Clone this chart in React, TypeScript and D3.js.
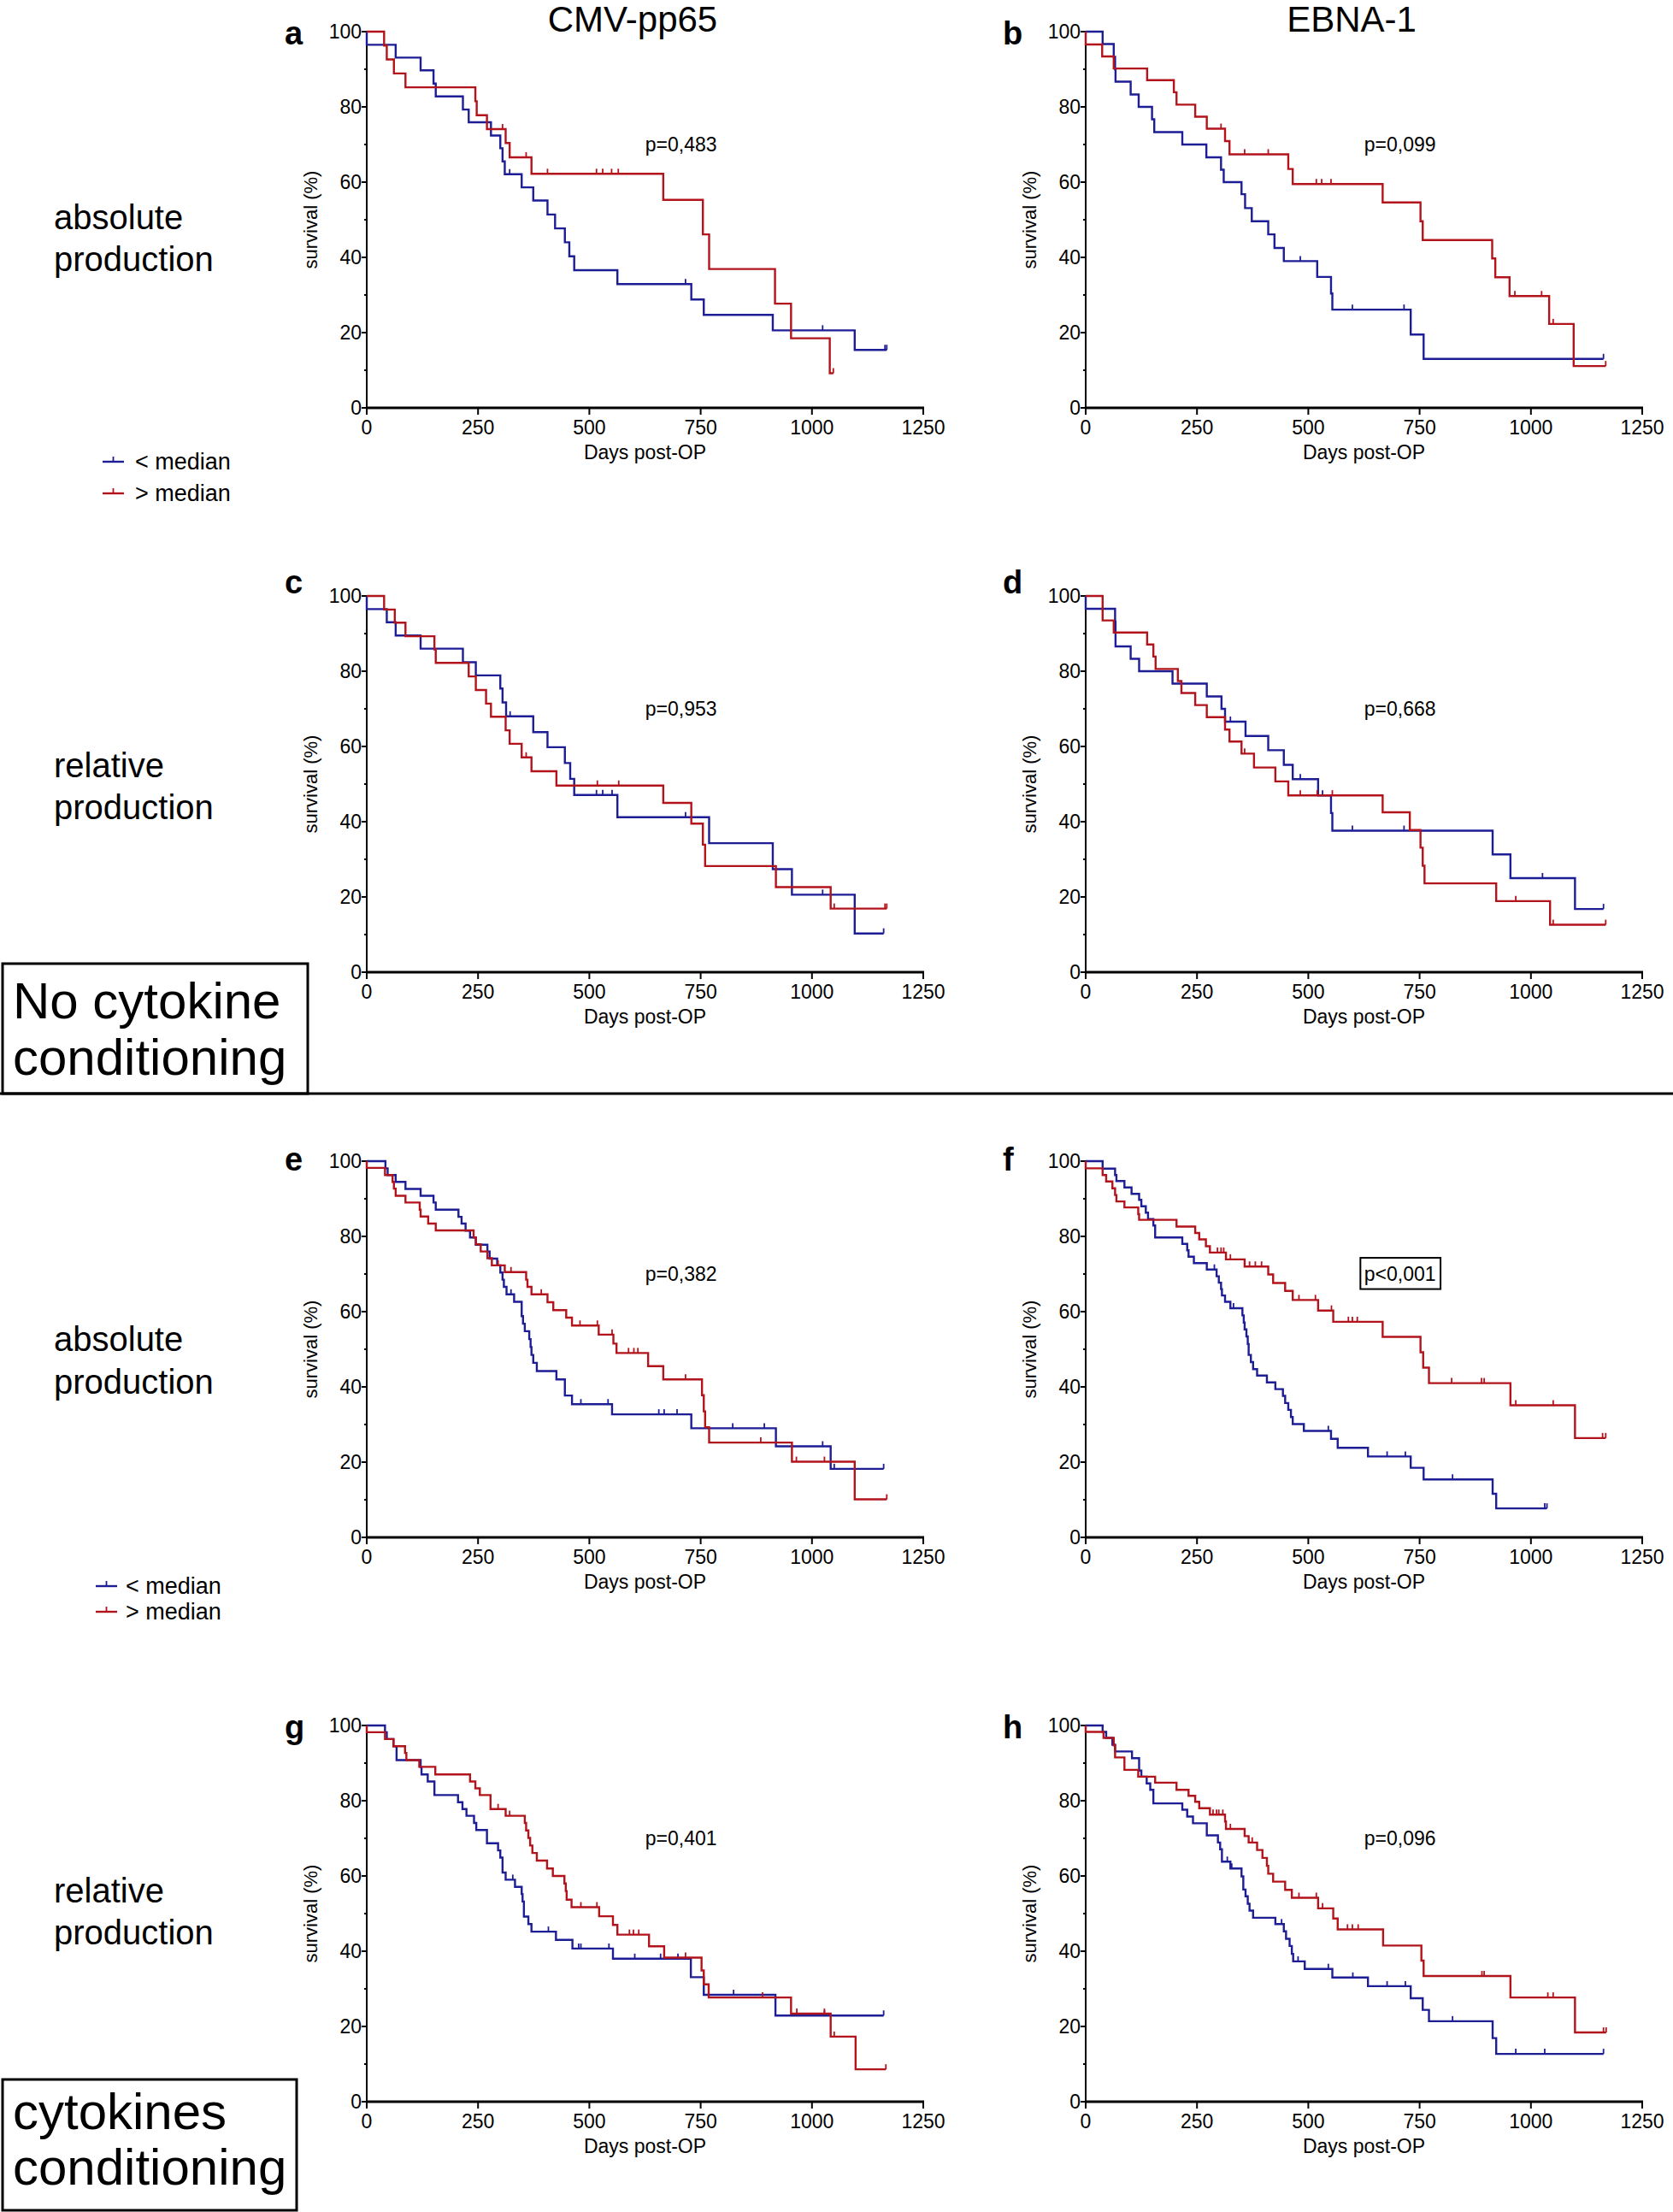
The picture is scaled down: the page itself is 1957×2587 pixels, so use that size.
import React from 'react';
import * as d3 from 'd3';

type Step = [number, number];

// ---------- data (days, survival % after event) ----------
const aBlueSteps: Step[] = [[0,96.5],[65,93.1],[121,89.7],[150,86.2],[155,82.8],[216,79.3],[229,75.9],[279,72.4],[300,69],[305,65.5],[310,62.1],[348,58.6],[374,55.1],[406,51.4],[423,47.7],[445,44],[455,40.3],[466,36.6],[563,32.9],[729,28.8],[757,24.7],[912,20.6],[1096,15.4]];
const aBlueCens = [321, 716, 1024, 1164, 1168];
const aRedSteps: Step[] = [[39,96.3],[45,92.6],[61,88.9],[87,85.2],[244,81.5],[247,77.8],[270,74.1],[312,70.4],[321,66.6],[370,62.2],[666,55.3],[755,46.1],[769,36.9],[917,27.7],[953,18.5],[1040,9.2]];
const aRedCens = [305, 358, 406, 516, 530, 550, 565, 1048];

const bBlueSteps: Step[] = [[38,96.7],[63,93.3],[66,90],[67,86.7],[101,83.3],[119,80],[149,76.7],[154,73.3],[217,70],[271,66.6],[304,63.3],[310,60],[350,56.8],[358,53.1],[373,49.6],[410,46.1],[424,42.5],[445,39],[520,34.8],[551,30.4],[554,26.1],[730,19.5],[759,13]];
const bBlueCens = [482, 599, 715, 1163];
const bRedSteps: Step[] = [[0,96.6],[37,93.4],[63,90.2],[138,87.1],[198,83.9],[204,80.6],[246,77.4],[272,74.2],[313,70.9],[323,67.4],[455,63.5],[465,59.5],[667,54.6],[752,49.6],[757,44.6],[913,39.7],[920,34.7],[952,29.7],[1041,22.3],[1096,11.1]];
const bRedCens = [304, 357, 410, 518, 530, 551, 964, 1024, 1050, 1168];

const cBlueSteps: Step[] = [[0,96.5],[45,93],[65,89.5],[121,86],[216,82.4],[245,78.9],[300,75.4],[305,71.7],[313,68],[374,63.8],[406,59.8],[445,55.6],[457,51.4],[466,47.1],[563,41.2],[769,34.3],[912,27.4],[955,20.6],[1096,10.3]];
const cBlueCens = [322, 516, 530, 551, 716, 1024, 1161];
const cRedSteps: Step[] = [[39,96.4],[63,92.9],[87,89.3],[152,85.8],[155,82.2],[229,78.6],[245,75],[268,71.4],[279,67.9],[312,64.3],[321,60.7],[348,57.1],[370,53.4],[426,49.6],[666,45],[729,39.5],[755,33.9],[760,28.2],[919,22.6],[1042,16.9]];
const cRedCens = [358, 518, 566, 1050, 1164, 1168];

const dBlueSteps: Step[] = [[0,96.6],[66,93.2],[67,86.6],[101,83.3],[120,80],[195,76.7],[272,73.3],[305,70],[313,66.6],[359,62.8],[410,59],[445,55.1],[465,51.3],[522,47],[551,42.3],[554,37.6],[914,31.3],[954,25],[1099,16.8]];
const dBlueCens = [325, 482, 532, 599, 715, 1026, 1163];
const dRedSteps: Step[] = [[38,93.5],[63,90.3],[138,87.1],[152,83.9],[157,80.6],[207,77.4],[215,74.2],[246,71],[272,67.8],[313,64.5],[323,61.3],[350,58.1],[378,54.4],[426,50.7],[455,47],[667,42.5],[728,37.8],[752,33.1],[757,28.3],[761,23.6],[922,18.9],[1043,12.6]];
const dRedCens = [357, 482, 520, 554, 966, 1050, 1168];

const eBlueSteps: Step[] = [[42,98.1],[47,96.3],[65,94.5],[87,92.6],[121,90.8],[150,89],[155,87.1],[206,85.2],[213,83.4],[222,81.5],[232,79.7],[245,77.8],[271,76],[276,74.1],[293,72.3],[300,70.4],[305,68.5],[308,66.6],[314,64.6],[331,62.6],[348,58.8],[351,56.8],[355,54.8],[365,52.7],[368,50.6],[370,48.5],[374,46.4],[382,44.2],[426,42],[445,37.7],[461,35.4],[551,32.7],[729,29],[919,24.2],[1042,18.2]];
const eBlueCens = [324, 481, 542, 656, 668, 697, 822, 893, 1024, 1050, 1161];
const eRedSteps: Step[] = [[0,98.2],[41,96.3],[58,94.5],[61,92.7],[65,90.8],[87,89],[119,87.1],[121,85.3],[138,83.4],[155,81.6],[240,79.7],[245,77.9],[256,76],[271,74.2],[281,72.3],[310,70.5],[358,68.5],[361,66.6],[370,64.6],[406,62.5],[419,60.4],[448,58.4],[461,56.3],[521,53.9],[554,51.5],[561,49],[632,45.5],[666,42],[753,37.8],[757,33.5],[760,29.3],[769,25.2],[955,20.1],[1096,10.1]];
const eRedCens = [295, 324, 392, 479, 518, 551, 588, 600, 609, 716, 885, 965, 1028, 1168];

const fBlueSteps: Step[] = [[38,98],[66,96.3],[69,94.7],[87,93],[103,91.3],[120,89.7],[125,88],[135,86.3],[140,84.6],[152,82.9],[156,79.7],[217,78],[228,76.3],[231,74.6],[243,72.9],[272,71.2],[294,69.4],[299,67.7],[304,66],[306,64.3],[313,62.6],[325,60.9],[352,59],[355,57.1],[357,55.3],[361,53.4],[364,51.4],[366,48.5],[371,46.6],[376,44.7],[385,43],[407,41.2],[426,39.4],[443,37.6],[448,35.7],[455,33.9],[461,32],[465,30.1],[490,28.3],[551,26.2],[566,23.8],[634,21.5],[730,18.5],[759,15.4],[914,11.6],[922,7.7]];
const fBlueCens = [289, 332, 545, 677, 718, 824, 1031, 1036];
const fRedSteps: Step[] = [[0,98.1],[38,96.3],[46,94.6],[60,92.8],[66,91],[69,89.3],[87,87.7],[118,85.9],[120,84.4],[204,82.6],[246,80.9],[255,79.2],[270,77.4],[279,75.7],[315,73.9],[357,72],[410,69.9],[421,67.6],[448,65.5],[465,63.1],[522,60.3],[556,57.3],[667,53.3],[752,49.2],[758,45.1],[771,41],[954,35.1],[1099,26.4]];
const fRedCens = [296, 304, 310, 325, 368, 381, 395, 479, 516, 552, 590, 599, 610, 822, 889, 895, 966, 1050, 1161, 1168];

const gBlueSteps: Step[] = [[41,98.2],[45,96.4],[60,94.5],[67,90.8],[121,88.9],[123,87],[137,85.1],[152,81.5],[205,79.6],[215,77.8],[224,76],[241,74.1],[246,72.2],[270,68.7],[295,66.8],[300,64.9],[305,60.9],[312,59],[333,57.1],[348,55.2],[350,53.2],[353,49.2],[363,47.2],[370,45.2],[425,43],[462,40.7],[553,38],[728,33.1],[757,28.4],[918,22.9]];
const gBlueCens = [328, 408, 476, 481, 544, 602, 660, 699, 824, 1028, 1161];
const gRedSteps: Step[] = [[0,98.2],[41,96.4],[60,94.5],[86,92.7],[89,90.8],[118,89],[154,87],[232,85.1],[244,83.3],[254,81.5],[278,77.8],[312,76],[355,74.1],[358,72.1],[363,70.1],[367,68.1],[372,66.1],[382,64.1],[405,62],[418,60],[444,58],[447,56],[449,53.7],[460,51.7],[522,49.3],[553,47],[563,44.4],[634,41.3],[668,38.3],[752,34.9],[757,31.2],[768,27.7],[953,23.4],[1042,17.3],[1098,8.6]];
const gRedCens = [295, 321, 481, 517, 590, 599, 611, 716, 889, 966, 1028, 1050, 1166];

const hBlueSteps: Step[] = [[38,98.3],[46,96.7],[60,94.9],[66,93.1],[104,91.3],[120,88],[125,86.4],[137,84.6],[145,82.9],[152,79.3],[217,77.6],[228,75.8],[241,74],[272,70.8],[297,68.9],[302,67.1],[306,63.8],[325,62],[350,59.9],[354,56.4],[359,54.6],[364,52.6],[368,50.8],[376,48.9],[426,47.2],[445,45.3],[450,43.3],[458,41.4],[463,39.3],[466,37.3],[492,35.3],[554,33],[634,30.7],[730,27.5],[757,24.4],[771,21.4],[914,16.9],[922,12.7]];
const hBlueCens = [318, 328, 440, 477, 545, 600, 677, 718, 824, 966, 1031, 1163];
const hRedSteps: Step[] = [[0,98.3],[40,96.7],[63,94.7],[66,91.5],[87,88.2],[118,86.4],[156,84.8],[204,82.9],[231,81.3],[246,79.7],[255,78],[279,76.3],[313,74.5],[315,72.5],[357,70.6],[366,68.9],[385,66.9],[397,64.8],[407,62.7],[410,60.6],[421,58.5],[448,56.3],[463,54.2],[522,51.4],[556,48.7],[566,45.8],[668,41.5],[754,37.5],[759,33.4],[954,27.7],[1099,18.4]];
const hRedCens = [286, 294, 299, 308, 325, 374, 479, 518, 532, 588, 599, 612, 890, 895, 1038, 1050, 1163, 1169];

const panelLetters = ['a', 'b', 'c', 'd', 'e', 'f', 'g', 'h'];
const pValues = ['p=0,483', 'p=0,099', 'p=0,953', 'p=0,668', 'p=0,382', 'p<0,001', 'p=0,401', 'p=0,096'];
const columnTitles = ['CMV-pp65', 'EBNA-1'];
const rowLabels = [['absolute', 'production'], ['relative', 'production'], ['absolute', 'production'], ['relative', 'production']];
const legendLabels = ['< median', '> median'];
const xTicks = [0, 250, 500, 750, 1000, 1250];
const yTicks = [0, 20, 40, 60, 80, 100];
const yMinorTicks = [10, 30, 50, 70, 90];

const blueSteps = [aBlueSteps, bBlueSteps, cBlueSteps, dBlueSteps, eBlueSteps, fBlueSteps, gBlueSteps, hBlueSteps];
const blueCens = [aBlueCens, bBlueCens, cBlueCens, dBlueCens, eBlueCens, fBlueCens, gBlueCens, hBlueCens];
const redSteps = [aRedSteps, bRedSteps, cRedSteps, dRedSteps, eRedSteps, fRedSteps, gRedSteps, hRedSteps];
const redCens = [aRedCens, bRedCens, cRedCens, dRedCens, eRedCens, fRedCens, gRedCens, hRedCens];

// ---------- layout ----------
const W = 1957, H = 2587;
const FONT = "'Liberation Sans', Arial, Helvetica, sans-serif";
const BLUE = '#1d1d96';
const RED = '#b3141c';
const colX = [429, 1270];
const plotW = 651;
const rowTop = [37, 697, 1358, 2018];
const plotH = 440;
const letterX = [333, 1173];
const letterBase = [52, 694, 1369, 2033];
const rowLabelBase = [[268, 317], [909, 958], [1580, 1630], [2225, 2274]];

function survAt(steps: Step[], t: number) {
  let s = 100;
  for (const [tt, v] of steps) if (tt <= t) s = v;
  return s;
}

function Curve({ steps, cens, color, x, y }: any) {
  const last = steps[steps.length - 1];
  const end = Math.max(last[0], ...cens);
  const pts: Step[] = [[0, 100], ...steps, [end, last[1]]];
  const line = d3.line<Step>().x(d => x(d[0])).y(d => y(d[1])).curve(d3.curveStepAfter);
  return (
    <g>
      <path d={line(pts) || ''} fill="none" stroke={color} strokeWidth={2.4} strokeLinejoin="miter" />
      {cens.map((c: number, i: number) => {
        const cy = y(survAt(steps, c));
        return <line key={i} x1={x(c)} x2={x(c)} y1={cy} y2={cy - 6} stroke={color} strokeWidth={1.8} />;
      })}
    </g>
  );
}

function Panel({ idx }: { idx: number }) {
  const col = idx % 2, row = Math.floor(idx / 2);
  const x0 = colX[col], y0 = rowTop[row];
  const x = d3.scaleLinear().domain([0, 1250]).range([x0, x0 + plotW]);
  const y = d3.scaleLinear().domain([0, 100]).range([y0 + plotH, y0]);
  const boxed = pValues[idx].startsWith('p<');
  return (
    <g>
      <text x={letterX[col]} y={letterBase[row]} fontSize={38} fontWeight="bold" fontFamily={FONT}>{panelLetters[idx]}</text>
      {/* y axis */}
      <line x1={x0} x2={x0} y1={y(0) + 1} y2={y(100)} stroke="#000" strokeWidth={2} />
      {yTicks.map(t => (
        <g key={t}>
          <line x1={x0 - 6} x2={x0} y1={y(t)} y2={y(t)} stroke="#000" strokeWidth={2} />
          <text x={x0 - 6} y={y(t)} dy="0.36em" textAnchor="end" fontSize={23} fontFamily={FONT}>{t}</text>
        </g>
      ))}
      {yMinorTicks.map(t => (
        <line key={t} x1={x0 - 3} x2={x0} y1={y(t)} y2={y(t)} stroke="#000" strokeWidth={2} />
      ))}
      {/* x axis */}
      <line x1={x0 - 1} x2={x(1250) + 1} y1={y(0)} y2={y(0)} stroke="#000" strokeWidth={3} />
      {xTicks.map(t => (
        <g key={t}>
          <line x1={x(t)} x2={x(t)} y1={y(0)} y2={y(0) + 8} stroke="#000" strokeWidth={2} />
          <text x={x(t)} y={y(0) + 31} textAnchor="middle" fontSize={23} fontFamily={FONT}>{t}</text>
        </g>
      ))}
      <text x={(x0 + x(1250)) / 2} y={y(0) + 60} textAnchor="middle" fontSize={23} fontFamily={FONT}>Days post-OP</text>
      <text transform={`translate(${x0 - 58},${(y(0) + y(100)) / 2}) rotate(-90)`} textAnchor="middle" fontSize={22} fontFamily={FONT}>survival (%)</text>
      {/* curves */}
      <Curve steps={blueSteps[idx]} cens={blueCens[idx]} color={BLUE} x={x} y={y} />
      <Curve steps={redSteps[idx]} cens={redCens[idx]} color={RED} x={x} y={y} />
      {/* p value */}
      {boxed && (
        <rect x={x(617)} y={y(74.3)} width={x(797) - x(617)} height={y(66) - y(74.3)} fill="none" stroke="#000" strokeWidth={2} />
      )}
      <text x={x(706)} y={y(68.2)} textAnchor="middle" fontSize={23} fontFamily={FONT}>{pValues[idx]}</text>
    </g>
  );
}

function Legend({ top, lineX, textX, gap }: { top: number; lineX: number; textX: number; gap: number }) {
  const colors = [BLUE, RED];
  return (
    <g>
      {legendLabels.map((lab, i) => {
        const cy = top + i * gap;
        return (
          <g key={lab}>
            <line x1={lineX} x2={lineX + 25} y1={cy} y2={cy} stroke={colors[i]} strokeWidth={2.4} />
            <line x1={lineX + 12.5} x2={lineX + 12.5} y1={cy} y2={cy - 6} stroke={colors[i]} strokeWidth={1.8} />
            <text x={textX} y={cy + 9} fontSize={27} fontFamily={FONT}>{lab}</text>
          </g>
        );
      })}
    </g>
  );
}

export default function App() {
  return (
    <svg width={W} height={H} viewBox={`0 0 ${W} ${H}`} style={{ position: 'absolute', left: 0, top: 0, background: '#fff' }}>
      <rect x={0} y={0} width={W} height={H} fill="#fff" />
      <text x={740} y={37} textAnchor="middle" fontSize={42} fontFamily={FONT}>{columnTitles[0]}</text>
      <text x={1581} y={37} textAnchor="middle" fontSize={42} fontFamily={FONT}>{columnTitles[1]}</text>
      {rowLabels.map((lines, r) => (
        <g key={r}>
          {lines.map((l, j) => (
            <text key={j} x={63} y={rowLabelBase[r][j]} fontSize={40} fontFamily={FONT}>{l}</text>
          ))}
        </g>
      ))}
      <Legend top={540} lineX={120} textX={158} gap={37} />
      <Legend top={1855} lineX={112} textX={147} gap={30} />
      {panelLetters.map((_, i) => <Panel key={i} idx={i} />)}
      {/* section boxes */}
      <line x1={0} x2={W} y1={1279} y2={1279} stroke="#000" strokeWidth={3} />
      <rect x={3} y={1127} width={357} height={152} fill="none" stroke="#000" strokeWidth={3} />
      <text x={15} y={1191} fontSize={60} fontFamily={FONT}>No cytokine</text>
      <text x={15} y={1257} fontSize={60} fontFamily={FONT}>conditioning</text>
      <rect x={3} y={2432} width={344} height={153} fill="none" stroke="#000" strokeWidth={3} />
      <text x={15} y={2490} fontSize={60} fontFamily={FONT}>cytokines</text>
      <text x={15} y={2555} fontSize={60} fontFamily={FONT}>conditioning</text>
    </svg>
  );
}
